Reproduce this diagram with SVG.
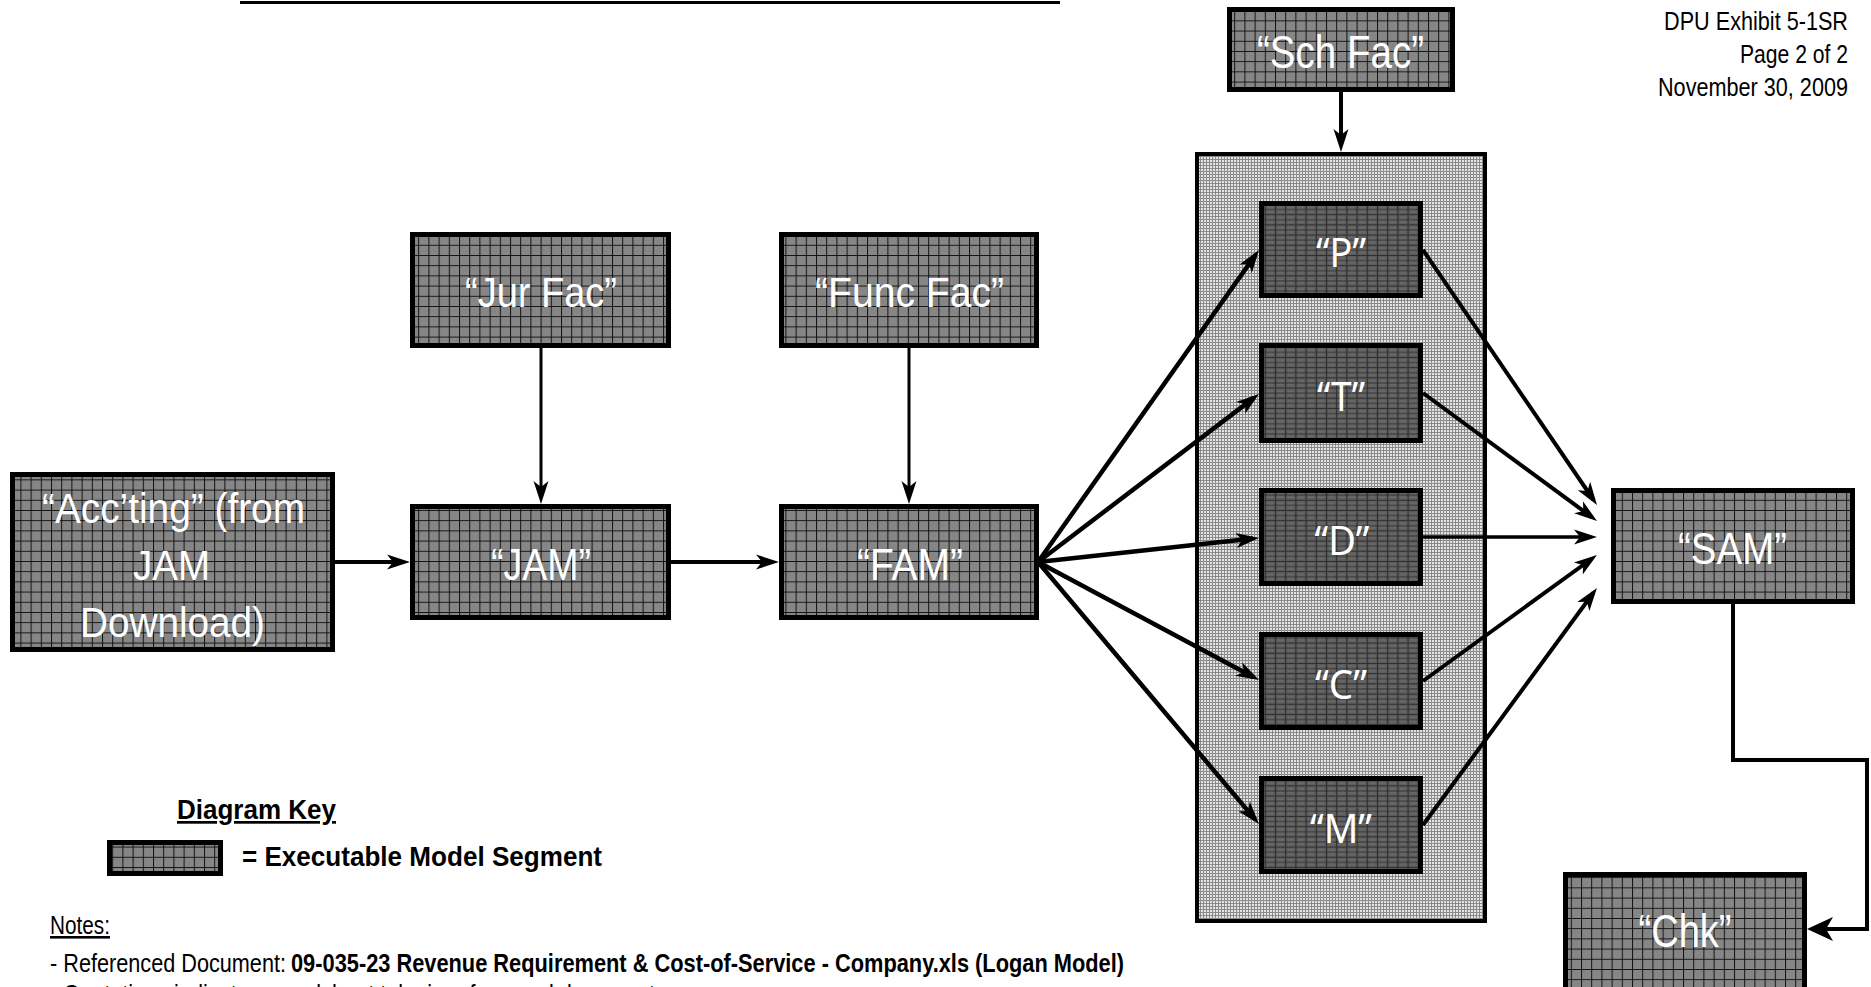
<svg xmlns="http://www.w3.org/2000/svg" width="1871" height="987" viewBox="0 0 1871 987">
<style>
.lbl{font-family:"Liberation Sans Narrow","Liberation Sans",Arial,sans-serif;fill:#fff;text-anchor:middle}
.lbl2{font-family:"Noto Sans","Open Sans","Liberation Sans",sans-serif;fill:#fff;text-anchor:middle}
.hdr{font-family:"Liberation Sans Narrow","Liberation Sans",Arial,sans-serif;fill:#000;font-size:26px;text-anchor:end}
.txt{font-family:"Liberation Sans Narrow","Liberation Sans",Arial,sans-serif;fill:#000}
.node{stroke:#000;stroke-width:5;fill:url(#grid)}
.inner{stroke:#000;stroke-width:5;fill:url(#dgrid)}
.cn{fill:none;stroke:#000;stroke-width:4}
</style>
<defs>
<pattern id="dots" width="2" height="2" patternUnits="userSpaceOnUse">
<rect width="2" height="2" fill="#9a9a9a"/><rect width="1" height="1" fill="#6e6e6e"/><rect x="1" y="1" width="1" height="1" fill="#6e6e6e"/>
</pattern>
<pattern id="grid" width="10.2" height="10.2" patternUnits="userSpaceOnUse">
<rect width="10.2" height="10.2" fill="#878787"/>
<rect x="2" y="2" width="7" height="7" fill="url(#dots)" opacity="0.6"/>
<path d="M0,0.5H10.2M0.5,0V10.2" stroke="#111" stroke-width="1"/>
</pattern>
<pattern id="dgrid" width="10.2" height="10.2" patternUnits="userSpaceOnUse">
<rect width="10.2" height="10.2" fill="#5a5a5a"/>
<rect x="2" y="2" width="7" height="7" fill="#666"/>
<path d="M0,0.5H10.2M0.5,0V10.2M0,5.5H10.2" stroke="#222" stroke-width="1" opacity="0.8"/>
</pattern>
<pattern id="light" width="3" height="3" patternUnits="userSpaceOnUse">
<rect width="3" height="3" fill="#e4e4e4"/>
<path d="M0,0.5H3M0.5,0V3" stroke="#8a8a8a" stroke-width="1"/>
</pattern>
<marker id="ah" markerUnits="userSpaceOnUse" orient="auto" refX="0" refY="0" markerWidth="30" markerHeight="30" overflow="visible">
<path d="M6,0 L-17,-7.5 L-11,0 L-17,7.5 Z" fill="#000"/>
</marker>
<marker id="ahb" markerUnits="userSpaceOnUse" orient="auto" refX="0" refY="0" markerWidth="40" markerHeight="40" overflow="visible">
<path d="M6,0 L-20,-12 L-13,0 L-20,12 Z" fill="#000"/>
</marker>
</defs>
<rect width="1871" height="987" fill="#fff"/>

<rect x="240" y="1" width="820" height="3" fill="#000"/>

<g id="header">
<text class="hdr" x="1848" y="30" textLength="184" lengthAdjust="spacingAndGlyphs">DPU Exhibit 5-1SR</text>
<text class="hdr" x="1848" y="63" textLength="108" lengthAdjust="spacingAndGlyphs">Page 2 of 2</text>
<text class="hdr" x="1848" y="96" textLength="190" lengthAdjust="spacingAndGlyphs">November 30, 2009</text>
</g>

<g id="schematic">
<rect x="1197" y="154" width="288" height="767" fill="url(#light)" stroke="#000" stroke-width="4"/>
</g>

<g id="accting">
<rect class="node" x="12.5" y="474.5" width="320" height="175"/>
<text class="lbl" font-size="42" x="173.5" y="523" textLength="263" lengthAdjust="spacingAndGlyphs">“Acc’ting” (from</text>
<text class="lbl" font-size="42" x="171.5" y="580" textLength="77" lengthAdjust="spacingAndGlyphs">JAM</text>
<text class="lbl" font-size="42" x="172.5" y="637" textLength="185" lengthAdjust="spacingAndGlyphs">Download)</text>
</g>

<g id="jurfac">
<rect class="node" x="412.5" y="234.5" width="256" height="111"/>
<text class="lbl" font-size="43" x="541" y="307" textLength="152" lengthAdjust="spacingAndGlyphs">“Jur Fac”</text>
</g>

<g id="funcfac">
<rect class="node" x="781.5" y="234.5" width="255" height="111"/>
<text class="lbl" font-size="43" x="909.5" y="307" textLength="189" lengthAdjust="spacingAndGlyphs">“Func Fac”</text>
</g>

<g id="jam">
<rect class="node" x="412.5" y="506.5" width="256" height="111"/>
<text class="lbl" font-size="45" x="541" y="580" textLength="100" lengthAdjust="spacingAndGlyphs">“JAM”</text>
</g>

<g id="fam">
<rect class="node" x="781.5" y="506.5" width="255" height="111"/>
<text class="lbl" font-size="45" x="910" y="580" textLength="106" lengthAdjust="spacingAndGlyphs">“FAM”</text>
</g>

<g id="schfac">
<rect class="node" x="1229.5" y="9.5" width="223" height="80"/>
<text class="lbl" font-size="46" x="1340.5" y="68" textLength="167" lengthAdjust="spacingAndGlyphs">“Sch Fac”</text>
</g>

<g id="p">
<rect class="inner" x="1261.5" y="203.5" width="159" height="92"/>
<text class="lbl2" font-size="40" x="1341" y="267" textLength="50" lengthAdjust="spacingAndGlyphs">“P”</text>
</g>
<g id="t">
<rect class="inner" x="1261.5" y="345.5" width="159" height="95"/>
<text class="lbl2" font-size="40" x="1341" y="411" textLength="48" lengthAdjust="spacingAndGlyphs">“T”</text>
</g>
<g id="d">
<rect class="inner" x="1261.5" y="490.5" width="159" height="93"/>
<text class="lbl2" font-size="40" x="1342" y="555" textLength="55" lengthAdjust="spacingAndGlyphs">“D”</text>
</g>
<g id="c">
<rect class="inner" x="1261.5" y="634.5" width="159" height="93"/>
<text class="lbl2" font-size="40" x="1341" y="699" textLength="52" lengthAdjust="spacingAndGlyphs">“C”</text>
</g>
<g id="m">
<rect class="inner" x="1261.5" y="778.5" width="159" height="93"/>
<text class="lbl2" font-size="40" x="1341" y="843" textLength="62" lengthAdjust="spacingAndGlyphs">“M”</text>
</g>

<g id="sam">
<rect class="node" x="1613.5" y="490.5" width="239" height="111"/>
<text class="lbl" font-size="45" x="1732.5" y="564" textLength="109" lengthAdjust="spacingAndGlyphs">“SAM”</text>
</g>

<g id="chk">
<rect class="node" x="1565.5" y="874.5" width="239" height="120"/>
<text class="lbl" font-size="47" x="1685" y="947" textLength="93" lengthAdjust="spacingAndGlyphs">“Chk”</text>
</g>

<g id="connectors">
<line class="cn" x1="335" y1="562" x2="404" y2="562" marker-end="url(#ah)"/>
<line class="cn" x1="671" y1="562" x2="773" y2="562" marker-end="url(#ah)"/>
<line class="cn" style="stroke-width:3" x1="541" y1="348" x2="541" y2="498" marker-end="url(#ah)"/>
<line class="cn" style="stroke-width:3" x1="909" y1="348" x2="909" y2="498" marker-end="url(#ah)"/>
<line class="cn" x1="1341" y1="92" x2="1341" y2="146" marker-end="url(#ah)"/>
<line class="cn" style="stroke-width:4.5" x1="1038" y1="562" x2="1255.5" y2="254.9" marker-end="url(#ah)"/>
<line class="cn" style="stroke-width:4.5" x1="1038" y1="562" x2="1254.2" y2="397.6" marker-end="url(#ah)"/>
<line class="cn" style="stroke-width:4.5" x1="1038" y1="562" x2="1253" y2="538.6" marker-end="url(#ah)"/>
<line class="cn" style="stroke-width:4.5" x1="1038" y1="562" x2="1253.7" y2="677.2" marker-end="url(#ah)"/>
<line class="cn" style="stroke-width:4.5" x1="1038" y1="562" x2="1255.1" y2="819.4" marker-end="url(#ah)"/>
<line class="cn" x1="1423" y1="250" x2="1593.6" y2="500" marker-end="url(#ah)"/>
<line class="cn" x1="1423" y1="393" x2="1592.2" y2="517.4" marker-end="url(#ah)"/>
<line class="cn" style="stroke-width:3.5" x1="1423" y1="537" x2="1591" y2="537" marker-end="url(#ah)"/>
<line class="cn" x1="1423" y1="681" x2="1592.1" y2="558.5" marker-end="url(#ah)"/>
<line class="cn" x1="1423" y1="825" x2="1593.4" y2="592.8" marker-end="url(#ah)"/>
<polyline class="cn" points="1733,604 1733,760 1867,760 1867,929 1813,929" marker-end="url(#ahb)"/>
</g>

<g id="key">
<text class="txt" x="177" y="819" font-size="27" font-weight="bold" text-decoration="underline" textLength="159" lengthAdjust="spacingAndGlyphs">Diagram Key</text>
<rect class="node" x="109.5" y="842.5" width="111" height="31"/>
<text class="txt" x="242" y="866" font-size="28" font-weight="bold" textLength="360" lengthAdjust="spacingAndGlyphs">= Executable Model Segment</text>
</g>

<g id="notes">
<text class="txt" x="50" y="934" font-size="26" text-decoration="underline" textLength="60" lengthAdjust="spacingAndGlyphs">Notes:</text>
<text class="txt" x="50" y="972" font-size="26" textLength="236" lengthAdjust="spacingAndGlyphs">- Referenced Document:</text>
<text class="txt" x="291" y="972" font-size="26" font-weight="bold" textLength="833" lengthAdjust="spacingAndGlyphs">09-035-23 Revenue Requirement &amp; Cost-of-Service - Company.xls (Logan Model)</text>
<text class="txt" x="50" y="1003" font-size="26" textLength="605" lengthAdjust="spacingAndGlyphs">- Quotations indicate spreadsheet tabs in referenced document</text>
</g>
</svg>
